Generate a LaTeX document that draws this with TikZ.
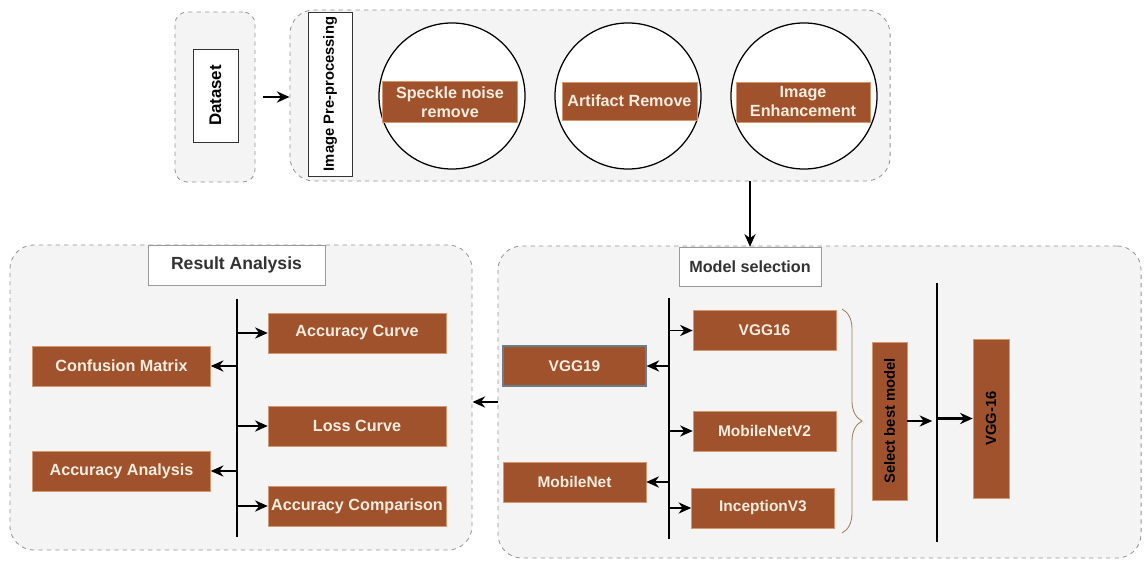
\documentclass[tikz,border=0pt]{standalone}
\usepackage{fontspec}
\setmainfont{Liberation Sans}
\usetikzlibrary{positioning,arrows.meta,decorations.pathreplacing}
\definecolor{boxbrown}{RGB}{160,82,45}
\definecolor{boxedge}{RGB}{214,150,110}
\definecolor{boxtext}{RGB}{250,236,222}
\definecolor{groupfill}{RGB}{244,244,244}
\definecolor{groupline}{RGB}{150,150,150}
\definecolor{slateedge}{RGB}{105,125,140}

\begin{document}
\begin{tikzpicture}[
        x=0.025cm, y=-0.025cm,
        groupbox/.style={draw=groupline, fill=groupfill, dashed, rounded corners=0.6cm, line width=0.6pt},
        titlebox/.style={draw=gray!80, fill=white, text=black!80, font=\bfseries\fontsize{11.5}{13}\selectfont},
        labelbox/.style={draw=black!80, fill=white, rotate=90, font=\bfseries\fontsize{10.5}{12}\selectfont},
        stagecircle/.style={circle, draw, line width=0.9pt, fill=white, minimum size=3.65cm},
        procbox/.style={draw=boxedge, fill=boxbrown, text=boxtext, align=center, inner sep=1pt, font=\bfseries\fontsize{11.5}{13.5}\selectfont},
        resbox/.style={procbox, minimum width=4.45cm, minimum height=1cm},
        modelbox/.style={procbox, minimum width=3.575cm, minimum height=1cm, font=\bfseries\fontsize{11}{13}\selectfont},
        pickbox/.style={procbox, rotate=90, text=black, font=\bfseries\fontsize{10.5}{12}\selectfont},
        arr/.style={-{Stealth[length=9pt,width=8pt]}, line width=1.3pt},
        busline/.style={line width=1.8pt}
    ]
    \useasboundingbox (0,0) rectangle (1144,563);

    % pre-processing row
    \node (dscont) at (215,97) [groupbox, rounded corners=0.3cm, minimum width=2cm, minimum height=4.25cm] {};
    \node (dataset) at (215.5,95.5) [labelbox, minimum width=2.325cm, minimum height=1.125cm, font=\bfseries\fontsize{12}{14}\selectfont] {Dataset};
    \node (precont) at (590,95.5) [groupbox, minimum width=15cm, minimum height=4.275cm] {};
    \node (prelabel) at (330,94) [labelbox, minimum width=3.95cm, minimum height=1.1cm] {Image Pre-processing};
    \node (c1) at (452,96) [stagecircle] {};
    \node (c2) at (628,96) [stagecircle] {};
    \node (c3) at (804,96) [stagecircle] {};
    \node (speckle) at (450,102) [procbox, minimum width=3.375cm, minimum height=1.025cm] {Speckle noise\\remove};
    \node (artifact) at (629.5,101) [procbox, minimum width=3.375cm, minimum height=0.95cm] {Artifact Remove};
    \node (enhance) at (803,102) [procbox, minimum width=3.35cm, minimum height=1cm] {Image\\Enhancement};
    \draw[arr, shorten <=0.18cm] (dscont.east) -- (dscont.east -| precont.west);

    % model selection
    \node (mscont) at (819.5,402) [groupbox, minimum width=16.075cm, minimum height=7.8cm] {};
    \node (mstitle) at (750,266.5) [titlebox, minimum width=3.55cm, minimum height=0.975cm] {Model selection};
    \draw[arr] (precont.south -| mstitle.north) -- (mstitle.north);

    \coordinate (m1top) at (669,298);
    \coordinate (m1bot) at (669,539);
    \draw[busline] (m1top) -- (m1bot);
    \node (vgg16) at (764.5,330.5) [modelbox] {VGG16};
    \node (mnv2) at (764.5,431) [modelbox] {MobileNetV2};
    \node (incv3) at (763,508) [modelbox] {InceptionV3};
    \node (vgg19) at (574.5,366) [modelbox, draw=slateedge, line width=0.8pt] {VGG19};
    \node (mnet) at (574.5,482) [modelbox] {MobileNet};
    \draw[arr] (vgg16.west -| m1top) -- (vgg16.west);
    \draw[arr] (mnv2.west -| m1top) -- (mnv2.west);
    \draw[arr] (incv3.west -| m1top) -- (incv3.west);
    \draw[arr] (vgg19.east -| m1top) -- (vgg19.east);
    \draw[arr] (mnet.east -| m1top) -- (mnet.east);

    \coordinate (brtop) at (842,309);
    \coordinate (brbot) at (842,533);
    \draw[decorate, decoration={brace, amplitude=0.5cm}, draw=brown!50!gray, line width=0.6pt] (brtop) -- (brbot);

    \node (select) at (889.5,421) [pickbox, minimum width=3.95cm, minimum height=0.875cm] {Select best model};
    \coordinate (m2top) at (937,283);
    \coordinate (m2bot) at (937,542);
    \draw[busline] (m2top) -- (m2bot);
    \node (vggbest) at (991,418.5) [pickbox, minimum width=3.975cm, minimum height=0.9cm] {VGG-16};
    \draw[arr, shorten >=0.12cm] (select.south) -- (select.south -| m2top);
    \draw[arr, line width=1.8pt] (vggbest.north -| m2top) -- (vggbest.north);

    % result analysis
    \node (rescont) at (241,397.5) [groupbox, minimum width=11.55cm, minimum height=7.625cm] {};
    \node (restitle) at (236.5,265) [titlebox, minimum width=4.425cm, minimum height=1cm, font=\bfseries\fontsize{12.5}{14}\selectfont] {Result Analysis};
    \coordinate (rtop) at (237,299);
    \coordinate (rbot) at (237,537);
    \draw[busline] (rtop) -- (rbot);
    \node (acccurve) at (357,333) [resbox] {Accuracy Curve};
    \node (losscurve) at (357,426) [resbox] {Loss Curve};
    \node (acccomp) at (357,506) [resbox] {Accuracy Comparison};
    \node (confmat) at (121.5,366) [resbox] {Confusion Matrix};
    \node (accanal) at (121.5,471) [resbox] {Accuracy Analysis};
    \draw[arr] (acccurve.west -| rtop) -- (acccurve.west);
    \draw[arr] (losscurve.west -| rtop) -- (losscurve.west);
    \draw[arr] (acccomp.west -| rtop) -- (acccomp.west);
    \draw[arr] (confmat.east -| rtop) -- (confmat.east);
    \draw[arr] (accanal.east -| rtop) -- (accanal.east);

    \draw[arr] (mscont.west) -- (mscont.west -| rescont.east);
\end{tikzpicture}
\end{document}
